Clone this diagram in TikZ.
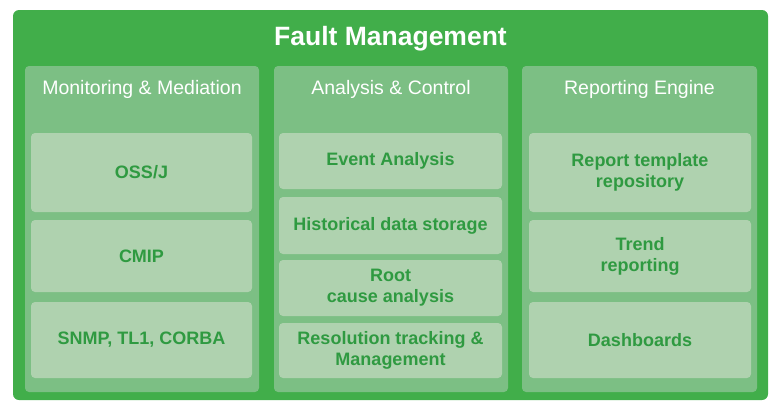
\documentclass[tikz,border=0pt]{standalone}
\usepackage{fontspec}
\setmainfont{Liberation Sans}
\usepackage{tikz}

\definecolor{fmgreen}{HTML}{41AE4A}
\definecolor{colgreen}{HTML}{7CBF84}
\definecolor{boxgreen}{HTML}{AFD2AF}
\definecolor{txtgreen}{HTML}{2F9A41}

\begin{document}
\begin{tikzpicture}[x=1pt,y=-1pt,
    column/.style={fill=colgreen, rounded corners=4pt, inner sep=0pt, minimum width=234pt, minimum height=326pt},
    item/.style={fill=boxgreen, rounded corners=4pt, inner sep=0pt, align=center, text=txtgreen,
        font=\fontsize{18}{21}\selectfont\bfseries},
    head/.style={text=white, font=\fontsize{19.5}{22}\selectfont}]
        \useasboundingbox (0,0) rectangle (776,400);
        \fill[fmgreen, rounded corners=6pt] (13,400) -- (13,10) -- (768,10) -- (768,400) -- cycle;
        \node[text=white, font=\fontsize{26.5}{30}\selectfont\bfseries] (fm) at (390.5,39) {Fault Management};
        % three columns
        \node[column] (mon) at (142,229) {};
        \node[column] (ana) at (391,229) {};
        \node[column, minimum width=235pt] (rep) at (639.5,229) {};
        \node[head] (monh) at (142,89) {Monitoring \& Mediation};
        \node[head] (anah) at (391,89) {Analysis \& Control};
        \node[head] (reph) at (639.5,89) {Reporting Engine};
        % monitoring
        \node[item, minimum width=221pt, minimum height=79pt] (oss) at (141.5,172.5) {OSS/J};
        \node[item, minimum width=221pt, minimum height=72pt] (cmip) at (141.5,256) {CMIP};
        \node[item, minimum width=221pt, minimum height=76pt] (snmp) at (141.5,340) {SNMP, TL1, CORBA};
        % analysis
        \node[item, minimum width=223pt, minimum height=56pt] (event) at (390.5,161) {Event Analysis};
        \node[item, minimum width=223pt, minimum height=57pt] (hist) at (390.5,225.5) {Historical data storage};
        \node[item, minimum width=223pt, minimum height=56pt] (root) at (390.5,288) {Root\\cause analysis};
        \node[item, minimum width=223pt, minimum height=55pt] (resol) at (390.5,350.5) {Resolution tracking \&\\Management};
        % reporting
        \node[item, minimum width=222pt, minimum height=79pt] (templ) at (640,172.5) {Report template\\repository};
        \node[item, minimum width=222pt, minimum height=72pt] (trend) at (640,256) {Trend\\reporting};
        \node[item, minimum width=222pt, minimum height=76pt] (dash) at (640,340) {Dashboards};
    \end{tikzpicture}
\end{document}
